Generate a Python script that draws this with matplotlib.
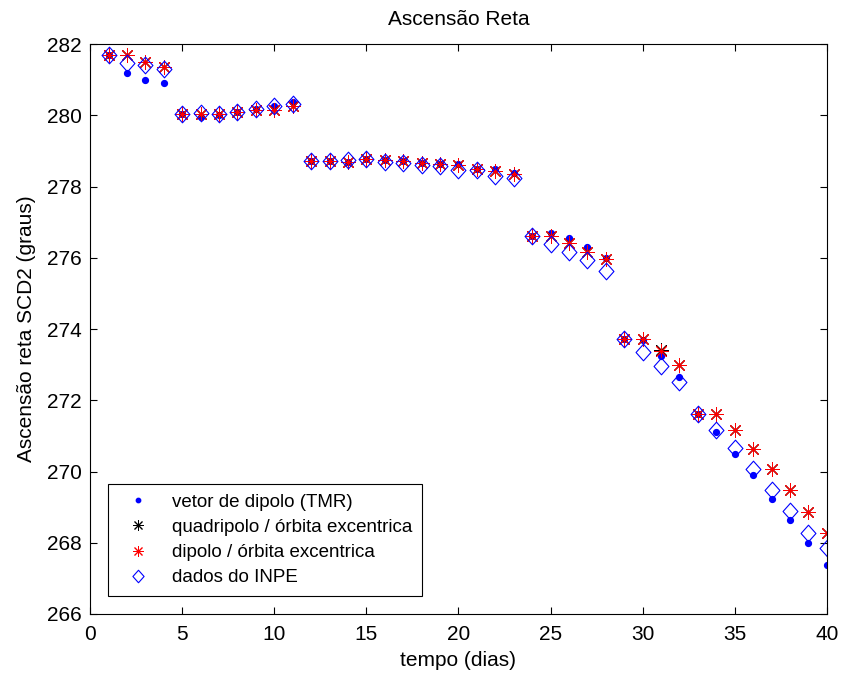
import matplotlib
matplotlib.use("Agg")
import matplotlib.pyplot as plt
from matplotlib.path import Path

plt.rcParams['font.family'] = ['Liberation Sans', 'DejaVu Sans']

days = list(range(1, 41))

tmr = [281.7, 281.2, 281.0, 280.92, 280.03, 279.95, 280.0, 280.1, 280.17, 280.27,
       280.36, 278.71, 278.71, 278.69, 278.76, 278.74, 278.71, 278.66, 278.62, 278.62,
       278.5, 278.5, 278.37, 276.61, 276.70, 276.55, 276.31, 276.0, 273.73, 273.70,
       273.23, 272.65, 271.62, 271.1, 270.48, 269.89, 269.24, 268.64, 267.98, 267.37]

quadripolo = [281.7, 281.7, 281.5, 281.37, 280.03, 280.03, 280.05, 280.1, 280.15, 280.14,
              280.25, 278.71, 278.71, 278.69, 278.76, 278.74, 278.71, 278.66, 278.62, 278.6,
              278.48, 278.43, 278.34, 276.61, 276.61, 276.41, 276.17, 275.96, 273.73, 273.73,
              273.4, 272.98, 271.62, 271.62, 271.16, 270.63, 270.08, 269.47, 268.86, 268.26]

dipolo = [281.7, 281.7, 281.5, 281.37, 280.03, 280.03, 280.05, 280.1, 280.15, 280.14,
          280.25, 278.71, 278.71, 278.69, 278.76, 278.74, 278.71, 278.66, 278.62, 278.6,
          278.48, 278.43, 278.34, 276.61, 276.61, 276.41, 276.17, 275.96, 273.73, 273.73,
          273.37, 272.98, 271.62, 271.62, 271.16, 270.63, 270.08, 269.47, 268.86, 268.26]

inpe = [281.7, 281.48, 281.4, 281.29, 280.03, 280.07, 280.05, 280.1, 280.17, 280.25,
        280.31, 278.71, 278.71, 278.74, 278.76, 278.69, 278.65, 278.6, 278.58, 278.46,
        278.46, 278.29, 278.23, 276.61, 276.38, 276.17, 275.94, 275.63, 273.73, 273.35,
        272.97, 272.51, 271.62, 271.16, 270.66, 270.08, 269.48, 268.89, 268.26, 267.84]

labels = ['vetor de dipolo (TMR)', 'quadripolo / órbita excentrica',
          'dipolo / órbita excentrica', 'dados do INPE']

FS = 15
LFS = 13.5

fig = plt.figure(figsize=(8.42, 6.78), dpi=100)
ax = fig.add_axes([0.107, 0.0944, 0.875, 0.8406])

ast = (8, 2, 0)
diamond = Path([(0, 1.12), (1, 0), (0, -1.12), (-1, 0), (0, 1.12)],
               [Path.MOVETO, Path.LINETO, Path.LINETO, Path.LINETO, Path.CLOSEPOLY])

ax.plot(days, tmr, linestyle='none', marker='o', markersize=4.2, color='#0000ff', label=labels[0])
ax.plot(days, quadripolo, linestyle='none', marker=ast, markersize=10.5, color='black',
        markeredgewidth=0.7, label=labels[1])
ax.plot(days, dipolo, linestyle='none', marker=ast, markersize=10.5, color='#ff0000',
        markeredgewidth=0.7, label=labels[2])
ax.plot(days, inpe, linestyle='none', marker=diamond, markersize=12, markerfacecolor='none',
        markeredgecolor='#0000ff', markeredgewidth=0.8, label=labels[3])

ax.set_xlim(0, 40)
ax.set_ylim(266, 282)
ax.set_xticks(range(0, 41, 5))
ax.set_yticks(range(266, 283, 2))
ax.tick_params(direction='in', top=True, right=True, labelsize=FS, length=5)
ax.tick_params(axis='y', pad=6)
ax.tick_params(axis='x', pad=8)
for s in ax.spines.values():
    s.set_linewidth(0.8)

ax.set_title('Ascensão Reta', fontsize=FS, pad=14)
ax.set_xlabel('tempo (dias)', fontsize=FS, labelpad=5)
ax.set_ylabel('Ascensão reta SCD2 (graus)', fontsize=FS, labelpad=8)

leg = ax.legend(loc='lower left', bbox_to_anchor=(0.024, 0.031), borderaxespad=0,
                fontsize=LFS, fancybox=False, framealpha=1, edgecolor='black',
                borderpad=0.53, handlelength=2.2, handletextpad=0.68, labelspacing=0.43,
                markerscale=0.75)
leg.get_frame().set_linewidth(0.8)

fig.savefig('out.png', dpi=100)
